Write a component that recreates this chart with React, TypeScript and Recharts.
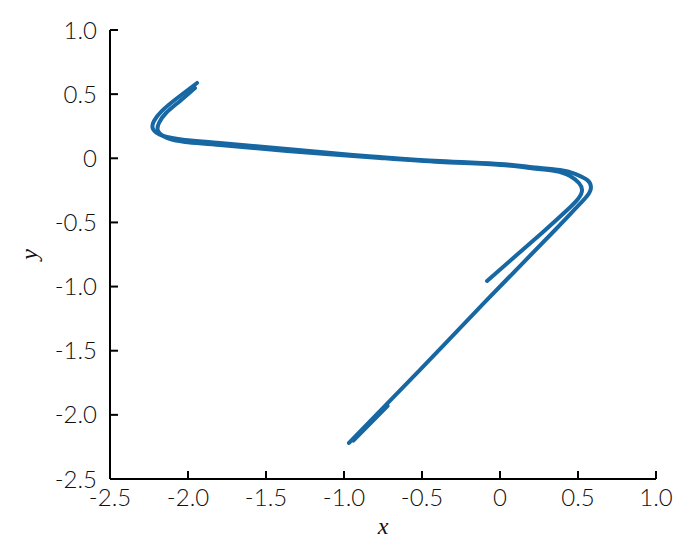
import React from "react";
import { LineChart, Line, XAxis, YAxis } from "recharts";

const xTicks = [-2.5, -2.0, -1.5, -1.0, -0.5, 0, 0.5, 1.0];
const xTickLabels = ["-2.5", "-2.0", "-1.5", "-1.0", "-0.5", "0", "0.5", "1.0"];
const yTicks = [-2.5, -2.0, -1.5, -1.0, -0.5, 0, 0.5, 1.0];
const yTickLabels = ["-2.5", "-2.0", "-1.5", "-1.0", "-0.5", "0", "0.5", "1.0"];

const outerTrack = [
  { x: -0.968, y: -2.219 },
  { x: -0.513, y: -1.65 },
  { x: -0.096, y: -1.12 },
  { x: 0.353, y: -0.559 },
  { x: 0.481, y: -0.395 },
  { x: 0.558, y: -0.294 },
  { x: 0.583, y: -0.224 },
  { x: 0.558, y: -0.169 },
  { x: 0.481, y: -0.122 },
  { x: 0.385, y: -0.091 },
  { x: 0.192, y: -0.068 },
  { x: 0.0, y: -0.044 },
  { x: -0.385, y: -0.021 },
  { x: -0.769, y: 0.01 },
  { x: -0.942, y: 0.026 },
  { x: -1.365, y: 0.072 },
  { x: -1.795, y: 0.119 },
  { x: -2.019, y: 0.143 },
  { x: -2.16, y: 0.174 },
  { x: -2.224, y: 0.228 },
  { x: -2.218, y: 0.291 },
  { x: -2.167, y: 0.369 },
  { x: -2.077, y: 0.462 },
  { x: -1.942, y: 0.587 },
];

const innerTrack = [
  { x: -0.083, y: -0.956 },
  { x: 0.276, y: -0.574 },
  { x: 0.417, y: -0.419 },
  { x: 0.5, y: -0.317 },
  { x: 0.526, y: -0.247 },
  { x: 0.506, y: -0.193 },
  { x: 0.449, y: -0.138 },
  { x: 0.353, y: -0.099 },
  { x: 0.192, y: -0.076 },
  { x: 0.0, y: -0.052 },
  { x: -0.385, y: -0.029 },
  { x: -0.769, y: 0.002 },
  { x: -1.365, y: 0.057 },
  { x: -1.795, y: 0.104 },
  { x: -2.019, y: 0.127 },
  { x: -2.135, y: 0.158 },
  { x: -2.192, y: 0.213 },
  { x: -2.186, y: 0.275 },
  { x: -2.141, y: 0.353 },
  { x: -2.051, y: 0.447 },
  { x: -1.955, y: 0.548 },
];

const tailTrack = [
  { x: -0.94, y: -2.2 },
  { x: -0.72, y: -1.93 },
];

const LINE_COLOR = "#1767a3";
const FONT = "Lato, 'DejaVu Sans', sans-serif";

export default function App() {
  return (
    <div style={{ position: "absolute", left: 0, top: 0, background: "#fff" }}>
      <LineChart
        width={700}
        height={553}
        margin={{ top: 30, right: 44, bottom: 24, left: 30 }}
      >
        <XAxis
          type="number"
          dataKey="x"
          domain={[-2.5, 1.0]}
          ticks={xTicks}
          tickFormatter={(v: number) => xTickLabels[xTicks.indexOf(v)] ?? String(v)}
          allowDataOverflow
          height={50}
          tickSize={-8}
          tickMargin={18}
          axisLine={{ stroke: "#000", strokeWidth: 2 }}
          tickLine={{ stroke: "#000", strokeWidth: 2 }}
          tick={{ fill: "#111", fontSize: 24, fontFamily: FONT, fontWeight: 300 }}
          label={{
            value: "x",
            position: "insideBottom",
            offset: -5,
            style: { fontFamily: "'Liberation Serif', 'DejaVu Serif', serif", fontStyle: "italic", fontSize: 24, fill: "#111" },
          }}
        />
        <YAxis
          type="number"
          dataKey="y"
          domain={[-2.5, 1.0]}
          ticks={yTicks}
          tickFormatter={(v: number) => yTickLabels[yTicks.indexOf(v)] ?? String(v)}
          allowDataOverflow
          width={80}
          tickSize={-8}
          tickMargin={21}
          axisLine={{ stroke: "#000", strokeWidth: 2 }}
          tickLine={{ stroke: "#000", strokeWidth: 2 }}
          tick={{ fill: "#111", fontSize: 24, fontFamily: FONT, fontWeight: 300 }}
          label={{
            value: "y",
            angle: -90,
            position: "insideLeft",
            offset: -2,
            style: { fontFamily: "'Liberation Serif', 'DejaVu Serif', serif", fontStyle: "italic", fontSize: 24, fill: "#111", textAnchor: "middle" },
          }}
        />
        <Line
          data={outerTrack}
          dataKey="y"
          type="natural"
          stroke={LINE_COLOR}
          strokeWidth={4}
          dot={false}
          isAnimationActive={false}
          strokeLinecap="round"
        />
        <Line
          data={innerTrack}
          dataKey="y"
          type="natural"
          stroke={LINE_COLOR}
          strokeWidth={4}
          dot={false}
          isAnimationActive={false}
          strokeLinecap="round"
        />
        <Line
          data={tailTrack}
          dataKey="y"
          type="linear"
          stroke={LINE_COLOR}
          strokeWidth={4}
          dot={false}
          isAnimationActive={false}
          strokeLinecap="round"
        />
      </LineChart>
    </div>
  );
}
